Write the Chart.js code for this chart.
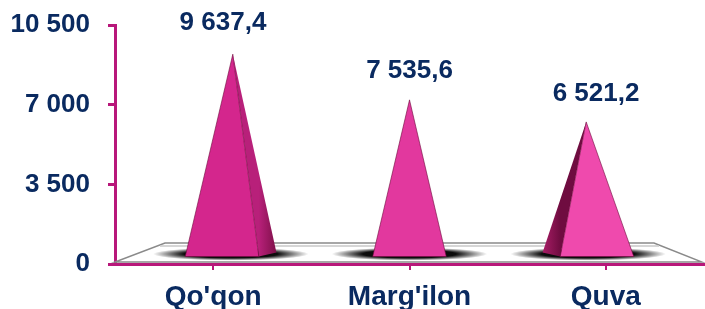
<!DOCTYPE html>
<html>
<head>
<meta charset="utf-8">
<script src="https://cdn.jsdelivr.net/npm/chart.js@4.4.1/dist/chart.umd.min.js"></script>
<style>
  html, body { margin: 0; padding: 0; background: #ffffff; }
  #wrap { width: 705px; height: 309px; position: relative; }
</style>
</head>
<body>
<div id="wrap"><canvas id="chart"></canvas></div>
<script>
// Data
const categories = ["Qo'qon", "Marg'ilon", "Quva"];
const values = [9637.4, 7535.6, 6521.2];
const yTicks = [0, 3500, 7000, 10500];

const frontColors = ['#d4268d', '#e2389e', '#ef4aad'];
const sideColors = [['#b8207a', '#7e1049'], ['#9a185b', '#9a185b'], ['#6f0c40', '#a81d66']];

const navy = '#0a2a60';
const magenta = '#b8177a';
const fontFamily = '"Liberation Sans", Arial, sans-serif';

// "10 500", "9 637,4" style numbers
function fmt(v, decimals) {
  const parts = v.toFixed(decimals).split('.');
  const intPart = parts[0].replace(/\B(?=(\d{3})+(?!\d))/g, ' ');
  return parts.length > 1 ? intPart + ',' + parts[1] : intPart;
}

// Floor slab + soft shadows, drawn before the (transparent) bars
const floorPlugin = {
  id: 'floor',
  beforeDatasetsDraw(chart) {
    const { ctx, chartArea: a } = chart;
    const fy = a.bottom - 2, by = a.bottom - 21;
    ctx.save();
    ctx.beginPath();
    ctx.moveTo(a.left, fy);
    ctx.lineTo(a.right - 2, fy);
    ctx.lineTo(a.right - 50, by);
    ctx.lineTo(a.left + 50, by);
    ctx.closePath();
    ctx.fillStyle = '#ffffff';
    ctx.fill();
    ctx.strokeStyle = '#8a8a8a';
    ctx.lineWidth = 1.5;
    ctx.stroke();
    ctx.beginPath();
    ctx.moveTo(a.left + 45, by + 3);
    ctx.lineTo(a.right - 45, by + 3);
    ctx.strokeStyle = '#c8c8c8';
    ctx.lineWidth = 1.5;
    ctx.stroke();

    const cx = (a.left + a.right) / 2;
    chart.getDatasetMeta(0).data.forEach((el) => {
      const mid = el.x + (cx - el.x) * 0.09;
      const rx = el.width * 0.55;
      ctx.save();
      ctx.translate(mid, a.bottom - 10);
      ctx.scale(1, 0.085);
      const g = ctx.createRadialGradient(0, 0, 0, 0, 0, rx);
      g.addColorStop(0, 'rgba(0,0,0,1)');
      g.addColorStop(0.6, 'rgba(0,0,0,0.95)');
      g.addColorStop(1, 'rgba(0,0,0,0)');
      ctx.fillStyle = g;
      ctx.beginPath();
      ctx.arc(0, 0, rx, 0, Math.PI * 2);
      ctx.fill();
      ctx.restore();
    });
    ctx.restore();
  },
};

// Each bar is drawn as a pyramid with a bit of perspective toward the middle
const pyramidPlugin = {
  id: 'pyramids',
  afterDatasetsDraw(chart) {
    const { ctx, chartArea: a } = chart;
    const cx = (a.left + a.right) / 2;
    ctx.save();
    chart.getDatasetMeta(0).data.forEach((el, i) => {
      const baseY = el.base - 6;
      const apexX = el.x + (cx - el.x) * 0.1;
      const apexY = baseY - (baseY - el.y) * 0.955;
      const fc = el.x + (cx - el.x) * 0.045;
      const hw = el.width * 0.26;
      const fl = fc - hw, fr = fc + hw;
      const d = (cx - el.x) * 0.09;

      // side face
      const sx0 = d > 0 ? fr : fl;
      const sg = ctx.createLinearGradient(sx0, 0, sx0 + d, 0);
      sg.addColorStop(0, sideColors[i][0]);
      sg.addColorStop(1, sideColors[i][1]);
      ctx.beginPath();
      ctx.moveTo(sx0, baseY);
      ctx.lineTo(sx0 + d, baseY - 4);
      ctx.lineTo(apexX, apexY);
      ctx.closePath();
      ctx.fillStyle = sg;
      ctx.fill();

      // front face
      ctx.beginPath();
      ctx.moveTo(fl, baseY);
      ctx.lineTo(fr, baseY);
      ctx.lineTo(apexX, apexY);
      ctx.closePath();
      ctx.fillStyle = frontColors[i];
      ctx.fill();
      ctx.strokeStyle = 'rgba(110,10,60,0.6)';
      ctx.lineWidth = 1;
      ctx.stroke();

      // value label
      ctx.fillStyle = navy;
      ctx.font = 'bold 26px ' + fontFamily;
      ctx.textAlign = 'center';
      ctx.textBaseline = 'middle';
      const lx = el.x + (cx - el.x) * 0.05;
      ctx.fillText(fmt(values[i], 1), lx, el.y - 22);
    });
    ctx.restore();
  },
};

new Chart(document.getElementById('chart'), {
  type: 'bar',
  plugins: [floorPlugin, pyramidPlugin],
  data: {
    labels: categories,
    datasets: [{
      data: values,
      backgroundColor: 'rgba(0,0,0,0)',
      borderWidth: 0,
    }],
  },
  options: {
    responsive: true,
    maintainAspectRatio: false,
    animation: false,
    layout: { padding: { top: 25, right: 1, left: 0, bottom: 0 } },
    plugins: { legend: { display: false }, tooltip: { enabled: false } },
    scales: {
      x: {
        afterFit(scale) { scale.height = 45; },
        grid: {
          offset: false,
          drawOnChartArea: false,
          drawTicks: true,
          tickLength: 6,
          color: magenta,
          lineWidth: 2,
        },
        border: { display: true, color: magenta, width: 3 },
        ticks: {
          color: navy,
          padding: 10,
          font: { family: fontFamily, size: 28, weight: 'bold' },
        },
      },
      y: {
        min: 0,
        max: 10500,
        afterBuildTicks(scale) { scale.ticks = yTicks.map((v) => ({ value: v })); },
        afterFit(scale) {
          scale.width = 115;
          scale.paddingTop = 0;
          scale.paddingBottom = 0;
        },
        grid: {
          drawOnChartArea: false,
          drawTicks: true,
          tickLength: 7,
          color: magenta,
          lineWidth: 3,
        },
        border: { display: true, color: magenta, width: 3 },
        ticks: {
          color: navy,
          padding: 18,
          font: { family: fontFamily, size: 26, weight: 'bold' },
          callback: (v) => fmt(v, 0),
        },
      },
    },
  },
});
</script>
</body>
</html>
